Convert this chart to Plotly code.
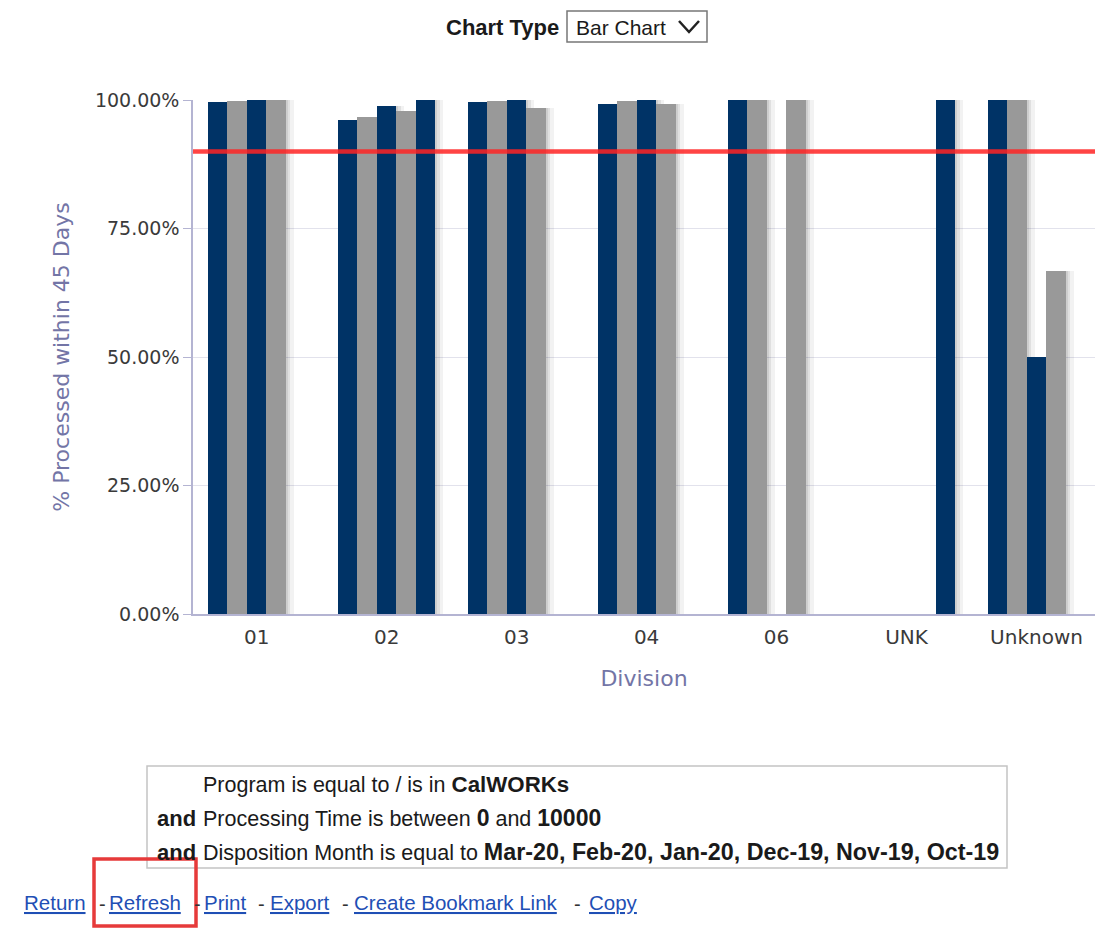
import plotly.graph_objects as go

# Divisions on the x axis
divisions = ["01", "02", "03", "04", "06", "UNK", "Unknown"]

# % processed within 45 days, one list per reporting period (None = no cases)
period_1 = [99.7, 96.2, 99.7, 99.3, 100.0, None, 100.0]
period_2 = [99.9, 96.6, 99.8, 99.8, 100.0, None, 100.0]
period_3 = [100.0, 98.9, 100.0, 100.0, None, None, 50.0]
period_4 = [100.0, 97.9, 98.5, 99.3, 100.0, None, 66.67]
period_5 = [None, 100.0, None, None, None, 100.0, None]

series = [period_1, period_2, period_3, period_4, period_5]
series_names = ["Period 1", "Period 2", "Period 3", "Period 4", "Period 5"]
series_colors = ["#003366", "#999999", "#003366", "#999999", "#003366"]

TARGET = 90  # goal line, % processed within 45 days

y_ticks = [0, 25, 50, 75, 100]
y_tick_labels = ["0.00%", "25.00%", "50.00%", "75.00%", "100.00%"]

AXIS_FONT = "DejaVu Sans"
PAGE_FONT = "Liberation Sans"
SLOT = 0.15
START = -0.375

fig = go.Figure()

# soft drop shadows behind each bar
for i, vals in enumerate(series):
    for shift, alpha in [(0.06, 0.05), (0.035, 0.07), (0.015, 0.08)]:
        fig.add_trace(go.Bar(
            x=divisions, y=vals, width=SLOT, offset=START + i * SLOT + shift,
            marker=dict(color=f"rgba(0,0,0,{alpha})", line=dict(width=0)),
            showlegend=False, hoverinfo="skip",
        ))

for i, vals in enumerate(series):
    fig.add_trace(go.Bar(
        x=divisions, y=vals, name=series_names[i], width=SLOT,
        offset=START + i * SLOT,
        marker=dict(color=series_colors[i], line=dict(width=0)),
        showlegend=False,
    ))

# goal line
fig.add_shape(type="line", xref="paper", yref="y", x0=0, x1=1, y0=TARGET, y1=TARGET,
              line=dict(color="rgba(255,35,35,0.85)", width=4.5), layer="above")


def px_x(px):
    return (px - 193) / 902


def px_y(py):
    return (614 - py) / 514


def note(text, x, y, size, color="#1a1a1a", xanchor="left", bold=False, under=False, family=PAGE_FONT):
    font = dict(family=family, size=size, color=color)
    if under:
        font["lineposition"] = "under"
    fig.add_annotation(text=f"<b>{text}</b>" if bold else text, xref="paper", yref="paper",
                       x=px_x(x), y=px_y(y), xanchor=xanchor, yanchor="middle",
                       showarrow=False, font=font)


def strong(text, size=23):
    return f"<span style='font-size:{size}px'><b>{text}</b></span>"


# header: chart type selector
note("Chart Type", 561, 27, 22, bold=True, xanchor="right")
note("Bar Chart", 574, 27, 21)

fig.add_shape(type="rect", xref="paper", yref="paper", x0=px_x(567), x1=px_x(707),
              y0=px_y(42), y1=px_y(11), line=dict(color="#777777", width=1.5))
fig.add_shape(type="path", xref="paper", yref="paper",
              path=f"M {px_x(679)} {px_y(21)} L {px_x(689)} {px_y(32)} L {px_x(699)} {px_y(21)}",
              line=dict(color="#222222", width=2.5))

# filter description box
fig.add_shape(type="rect", xref="paper", yref="paper", x0=px_x(147), x1=px_x(1007),
              y0=px_y(868), y1=px_y(766), line=dict(color="#c4c4c4", width=1.5))
note("Program is equal to / is in " + strong("CalWORKs", 22.3), 201, 784, 21.5)
note("and", 198, 818, 22, bold=True, xanchor="right")
note("Processing Time is between " + strong("0") + " and " + strong("10000"), 201, 818, 21.5)
note("and", 198, 852, 22, bold=True, xanchor="right")
note("Disposition Month is equal to "
     + strong("Mar-20, Feb-20, Jan-20, Dec-19, Nov-19, Oct-19", 23.3), 201, 852, 21.5)

# page links
link_color = "#1f4fb5"
links = [("Return", 22), ("Refresh", 107), ("Print", 202), ("Export", 268),
         ("Create Bookmark Link", 352), ("Copy", 587)]
dashes = [97, 192, 256, 340, 572]
for label, x in links:
    note(label, x, 902, 20.5, color=link_color, under=True)
for x in dashes:
    note("-", x, 904, 20, color="#333333")

fig.add_shape(type="rect", xref="paper", yref="paper", x0=px_x(94), x1=px_x(196),
              y0=px_y(926), y1=px_y(859), line=dict(color="#e63a3a", width=3.5))

axis_color = "#b4b4d2"
fig.update_layout(
    width=1095, height=928,
    margin=dict(l=193, r=0, t=100, b=314),
    paper_bgcolor="white", plot_bgcolor="white",
    barmode="overlay", bargap=0,
    xaxis=dict(
        type="category", range=[-0.49, 6.45],
        showline=True, linecolor=axis_color, linewidth=1.5,
        showgrid=False, ticks="", ticklabelstandoff=4,
        tickfont=dict(family=AXIS_FONT, size=20, color="#3a3a3a"),
        title=dict(text="Division", standoff=23,
                   font=dict(family=AXIS_FONT, size=22, color="#7375a6")),
    ),
    yaxis=dict(
        range=[0, 100], tickmode="array", tickvals=y_ticks, ticktext=y_tick_labels,
        showline=True, linecolor=axis_color, linewidth=1.5,
        showgrid=True, gridcolor="#e2e2ec", gridwidth=1, zeroline=False,
        ticks="outside", ticklen=8, tickcolor=axis_color,
        tickfont=dict(family=AXIS_FONT, size=19, color="#3a3a3a"),
        title=dict(text="% Processed within 45 Days", standoff=19,
                   font=dict(family=AXIS_FONT, size=22, color="#7375a6")),
    ),
)

fig.write_html("out.html")
